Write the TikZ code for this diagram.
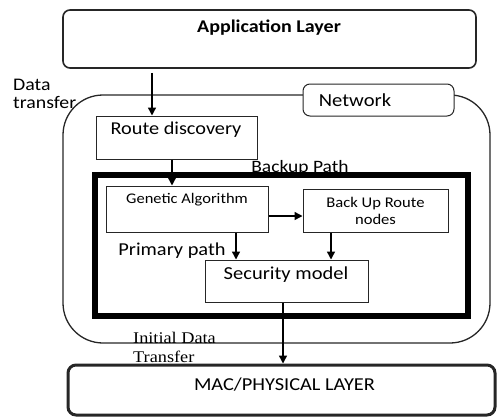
\documentclass[tikz,border=0pt]{standalone}
\usepackage{fontspec}
\setmainfont[FakeStretch=1.12]{Carlito}
\newfontfamily\serifface[FakeStretch=1.12]{Liberation Serif}
\usetikzlibrary{arrows.meta}
\newcommand{\fsz}[1]{\fontsize{#1}{18}\selectfont}
\tikzset{
  box/.style={draw=black!85, line width=1pt, fill=white, inner sep=0pt},
  rbox/.style={box, rounded corners=7pt},
  txt/.style={inner sep=0pt, font=\fsz{18.2}},
  small/.style={inner sep=0pt, font=\fsz{14.7}},
  flow/.style={line width=1.4pt, -{Triangle[length=8pt,width=8pt]}},
}
\begin{document}
\begin{tikzpicture}[x=1pt, y=-1pt]
\useasboundingbox (0,0) rectangle (497,418);

% application layer
\node[rbox, line width=1.6pt, minimum width=413pt, minimum height=58pt] (app) at (269.5,39) {};
\node[txt, font=\fsz{17.9}\bfseries] (applbl) at (269,28) {Application Layer};

% network region
\draw[line width=1.3pt, draw=black!85, rounded corners=40pt] (63,95) rectangle (490,343);
\node[rbox, minimum width=151pt, minimum height=32pt] (net) at (378.5,100) {};
\node[txt, font=\fsz{18.4}] (netlbl) at (355,100) {Network};

\node[txt, font=\fontsize{17.7}{18}\selectfont, align=left, anchor=west] (dt) at (13,94) {Data\\transfer};

% route discovery
\node[box, minimum width=161pt, minimum height=43pt] (route) at (176.5,137.5) {};
\node[txt, font=\fsz{18.1}] (routelbl) at (176,130) {Route discovery};

% backup path frame
\node[txt, font=\fsz{17.4}] (bplbl) at (300,168) {Backup Path};
\draw[line width=6pt] (95,175) rectangle (468,316);

% genetic algorithm
\node[box, minimum width=162pt, minimum height=46pt] (ga) at (187,209) {};
\node[small] (galbl) at (187,200) {Genetic Algorithm};

% back up route nodes
\node[box, minimum width=145pt, minimum height=43pt, small, font=\fontsize{14.8}{17}\selectfont, align=center] (bur) at (375.5,210.5) {Back Up Route\\nodes};

% security model
\node[box, minimum width=163pt, minimum height=42pt] (sec) at (286.5,281) {};
\node[txt, font=\fsz{18.3}] (seclbl) at (286,275) {Security model};

\node[txt] (pp) at (172,251) {Primary path};

% mac / physical layer
\node[rbox, line width=3pt, rounded corners=8pt, minimum width=427pt, minimum height=50pt] (mac) at (281.5,390) {};
\node[txt] (maclbl) at (284.5,385) {MAC/PHYSICAL LAYER};

\node[txt, font=\serifface\fontsize{16.3}{19}\selectfont, align=left, anchor=west] (idt) at (133,347) {Initial Data\\Transfer};

% connectors
\draw[flow] ([yshift=-4pt]app.south -| 152,0) -- (route.north -| 152,0);
\draw[flow] (route.south -| 172,0) -- (ga.north -| 172,0);
\draw[flow] (ga.east |- 0,216) -- (bur.west |- 0,216);
\draw[flow] (ga.south -| 236,0) -- (sec.north -| 236,0);
\draw[flow] (bur.south -| 331,0) -- (sec.north -| 331,0);
\draw[flow] (sec.south -| 283,0) -- (mac.north -| 283,0);
\end{tikzpicture}
\end{document}
